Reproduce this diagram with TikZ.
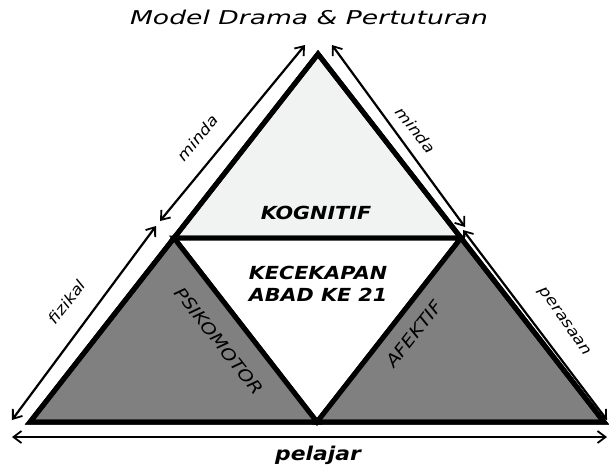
\documentclass[tikz,border=0pt]{standalone}
\usepackage{fontspec}
\newfontfamily\handfont[FakeStretch=1.15]{DejaVu Sans}
\newfontfamily\titlefont[FakeStretch=1.4]{DejaVu Sans}
\usetikzlibrary{arrows.meta}
\definecolor{lightpart}{HTML}{F1F2F2}
\definecolor{darkpart}{HTML}{808080}

\begin{document}
\begin{tikzpicture}[x=1pt,y=-1pt,
  part/.style={draw=black, line width=5pt, line join=miter},
  side/.style={<->, >={Straight Barb[length=8pt,width=12pt,line width=1.8pt]}, line width=2.2pt},
  sidelabel/.style={font=\handfont\itshape\fontsize{15}{15}\selectfont},
  domainlabel/.style={font=\handfont\itshape\fontsize{17}{17}\selectfont},
  core/.style={font=\handfont\bfseries\itshape\fontsize{18}{22}\selectfont, align=center}
]
\useasboundingbox (0,0) rectangle (609,466);

\coordinate (top) at (318,54);
\coordinate (bl) at (30,422);
\coordinate (br) at (604,422);
\coordinate (ml) at (174,238);
\coordinate (mr) at (461,238);
\coordinate (mb) at (317,422);

\filldraw[part, fill=lightpart] (top) -- (ml) -- (mr) -- cycle;
\filldraw[part, fill=white] (ml) -- (mr) -- (mb) -- cycle;
\filldraw[part, fill=darkpart] (ml) -- (mb) -- (bl) -- cycle;
\filldraw[part, fill=darkpart] (mr) -- (br) -- (mb) -- cycle;
\draw[part] (top) -- (bl) -- (br) -- cycle;

\coordinate (lu1) at (305,45);
\coordinate (lu2) at (160,221);
\coordinate (ll1) at (156,226);
\coordinate (ll2) at (12,420);
\coordinate (ru1) at (332,45);
\coordinate (ru2) at (465,227);
\coordinate (rl1) at (463,230);
\coordinate (rl2) at (607,420);
\coordinate (b1) at (12,437);
\coordinate (b2) at (607,437);

\draw[side] (lu1) -- (lu2);
\draw[side] (ll1) -- (ll2);
\draw[side] (ru1) -- (ru2);
\draw[side] (rl1) -- (rl2);
\draw[side] (b1) -- (b2);

\node[font=\titlefont\itshape\fontsize{19}{19}\selectfont] (title) at (309,17) {Model Drama \& Pertuturan};
\node[sidelabel, rotate=50] (mindaL) at (198,138) {minda};
\node[sidelabel, rotate=-52] (mindaR) at (416,130) {minda};
\node[sidelabel, rotate=52] (fizikal) at (67,302) {fizikal};
\node[sidelabel, rotate=-55] (perasaan) at (564,322) {perasaan};
\node[core] (kognitif) at (316,213) {KOGNITIF};
\node[core] (abad) at (318,284) {KECEKAPAN\\ABAD KE 21};
\node[domainlabel, rotate=-52] (psiko) at (219,341) {PSIKOMOTOR};
\node[domainlabel, rotate=52] (afektif) at (414,334) {AFEKTIF};
\node[font=\handfont\bfseries\itshape\fontsize{19}{19}\selectfont] (pelajar) at (318,455) {pelajar};
\end{tikzpicture}
\end{document}
